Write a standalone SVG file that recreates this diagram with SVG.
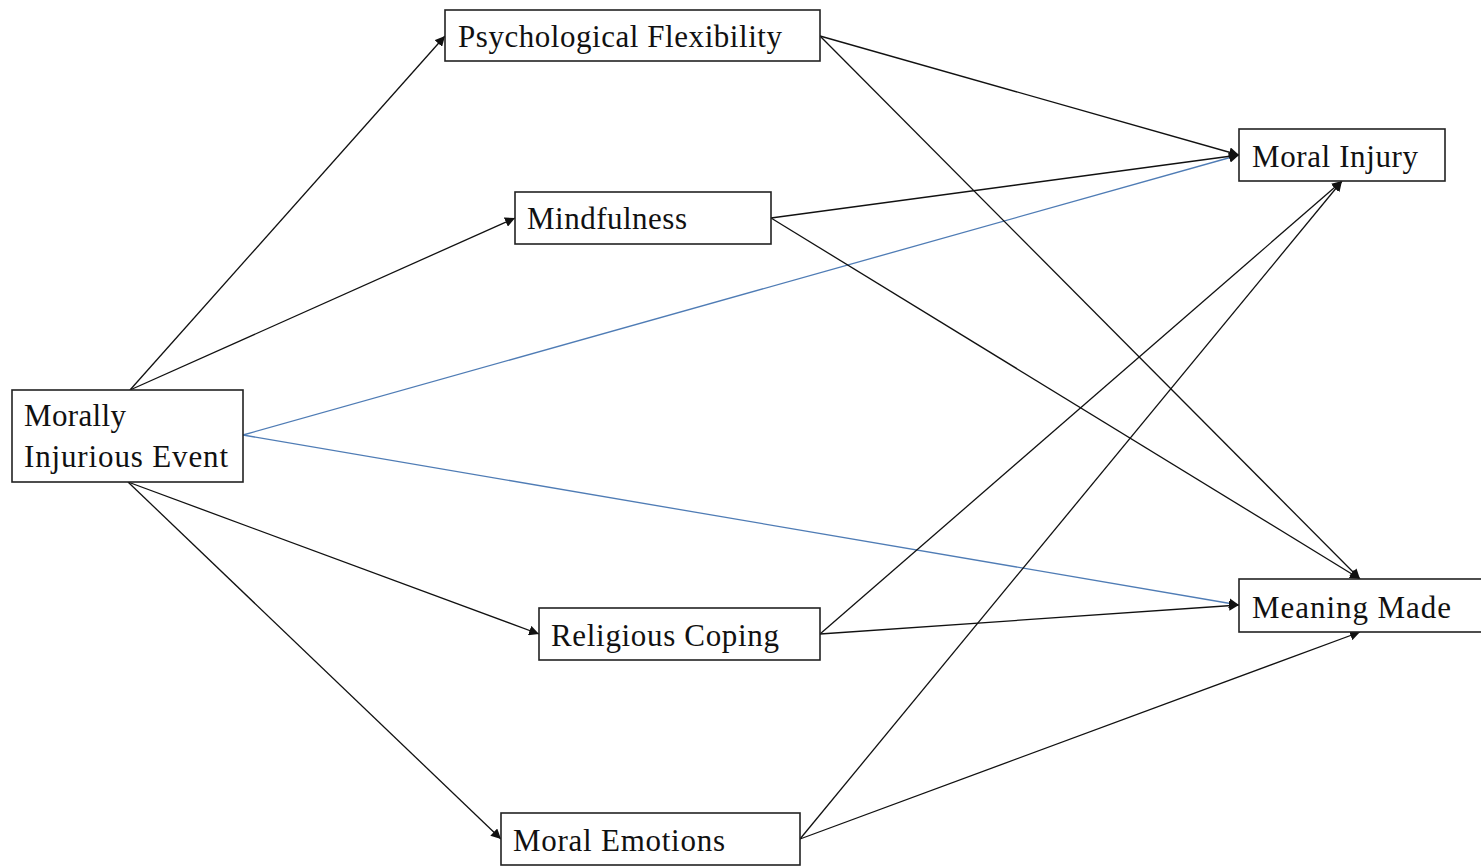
<svg xmlns="http://www.w3.org/2000/svg" width="1481" height="868" viewBox="0 0 1481 868">
<style>
.box{fill:#fff;stroke:#222;stroke-width:1.6}
.t{font-family:"Liberation Serif","Times New Roman",serif;font-size:31px;fill:#111}
.c{stroke:#111;stroke-width:1.3;fill:none;marker-end:url(#ah)}
.b{stroke:#4f7cb5;stroke-width:1.3;fill:none;marker-end:url(#ahb)}
</style>
<defs>
<marker id="ah" viewBox="0 0 10 10" refX="10" refY="5" markerWidth="10" markerHeight="10" markerUnits="userSpaceOnUse" orient="auto"><path d="M0,0L10,5L0,10z" fill="#111"/></marker>
<marker id="ahb" viewBox="0 0 10 10" refX="10" refY="5" markerWidth="10" markerHeight="10" markerUnits="userSpaceOnUse" orient="auto"><path d="M0,0L10,5L0,10z" fill="#111"/></marker>
</defs>
<rect width="1481" height="868" fill="#fff"/>
<g id="connectors">
<line class="c" x1="130" y1="390" x2="445" y2="36"/>
<line class="c" x1="130" y1="390" x2="515" y2="218"/>
<line class="b" x1="243" y1="435" x2="1239" y2="155"/>
<line class="b" x1="243" y1="435" x2="1239" y2="605"/>
<line class="c" x1="128" y1="482" x2="539" y2="634"/>
<line class="c" x1="128" y1="482" x2="501" y2="839"/>
<line class="c" x1="820" y1="36" x2="1239" y2="155"/>
<line class="c" x1="820" y1="36" x2="1360" y2="579"/>
<line class="c" x1="771" y1="218" x2="1239" y2="155"/>
<line class="c" x1="771" y1="218" x2="1360" y2="579"/>
<line class="c" x1="820" y1="634" x2="1342" y2="181"/>
<line class="c" x1="820" y1="634" x2="1239" y2="605"/>
<line class="c" x1="800" y1="839" x2="1342" y2="181"/>
<line class="c" x1="800" y1="839" x2="1360" y2="632"/>
</g>
<g id="mie"><rect class="box" x="12" y="390" width="231" height="92"/><text class="t" x="24" y="426" textLength="102">Morally</text><text class="t" x="24" y="467" textLength="204">Injurious Event</text></g>
<g id="pf"><rect class="box" x="445" y="10" width="375" height="51"/><text class="t" x="458" y="47" textLength="324">Psychological Flexibility</text></g>
<g id="mind"><rect class="box" x="515" y="192" width="256" height="52"/><text class="t" x="527" y="229" textLength="160">Mindfulness</text></g>
<g id="rc"><rect class="box" x="539" y="608" width="281" height="52"/><text class="t" x="551" y="646" textLength="228">Religious Coping</text></g>
<g id="me"><rect class="box" x="501" y="813" width="299" height="52"/><text class="t" x="513" y="851" textLength="212">Moral Emotions</text></g>
<g id="mi"><rect class="box" x="1239" y="129" width="206" height="52"/><text class="t" x="1252" y="167" textLength="166">Moral Injury</text></g>
<g id="mm"><rect class="box" x="1239" y="579" width="245" height="53"/><text class="t" x="1252" y="618" textLength="199">Meaning Made</text></g>
</svg>
